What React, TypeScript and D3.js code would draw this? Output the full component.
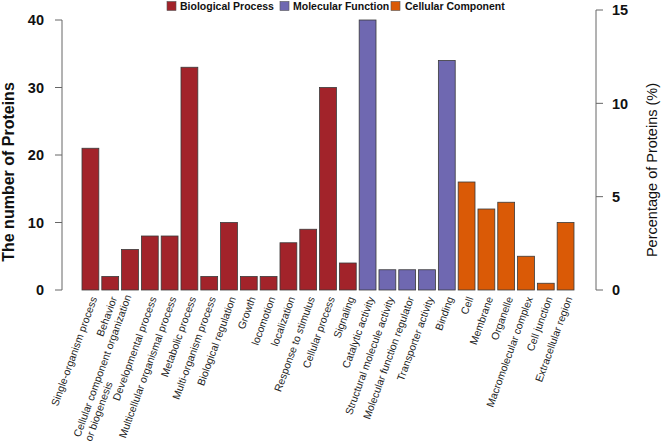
import { useLayoutEffect, useRef, useState } from 'react';
import * as d3 from 'd3';

const categories = [
  'Single-organism process',
  'Behavior',
  'Cellular component organization\nor biogenesis',
  'Developmental process',
  'Multicellular organismal process',
  'Metabolic process',
  'Multi-organism process',
  'Biological regulation',
  'Growth',
  'locomotion',
  'localization',
  'Response to stimulus',
  'Cellular process',
  'Signaling',
  'Catalytic activity',
  'Structural molecule activity',
  'Molecular function regulator',
  'Transporter activity',
  'Binding',
  'Cell',
  'Membrane',
  'Organelle',
  'Macromolecular complex',
  'Cell junction',
  'Extracellular region',
];
const counts = [21, 2, 6, 8, 8, 33, 2, 10, 2, 2, 7, 9, 30, 4, 40, 3, 3, 3, 34, 16, 12, 13, 5, 1, 10];
const groupOf = [
  ...Array(14).fill('Biological Process'),
  ...Array(5).fill('Molecular Function'),
  ...Array(6).fill('Cellular Component'),
];
const groups = ['Biological Process', 'Molecular Function', 'Cellular Component'];
const groupColors = ['#a2232a', '#6f68b1', '#da5a06'];
const countTicks = [0, 10, 20, 30, 40];
const percentTicks = [0, 5, 10, 15];

const W = 666;
const H = 448;
const FONT = 'Arial, "Liberation Sans", Helvetica, sans-serif';
const LABEL_SIZE = 10.5;

function XLabel({ label, x, y }: { label: string; x: number; y: number }) {
  const lines = label.split('\n');
  const firstRef = useRef<SVGTSpanElement | null>(null);
  const [firstLen, setFirstLen] = useState(0);
  useLayoutEffect(() => {
    if (firstRef.current) setFirstLen(firstRef.current.getComputedTextLength());
  }, [label]);

  if (lines.length === 1) {
    return (
      <text transform={`translate(${x},${y}) rotate(-70)`} textAnchor="end" dy="0.35em" fontSize={LABEL_SIZE} fill="#222">
        {label}
      </text>
    );
  }
  // multi-line: lines left-aligned, block right-aligned at the anchor
  return (
    <g transform={`translate(${x},${y}) rotate(-70)`}>
      <text dy="-0.2em" fontSize={LABEL_SIZE} fill="#222" textAnchor="end">
        <tspan ref={firstRef}>{lines[0]}</tspan>
      </text>
      <text x={-firstLen} dy="0.95em" fontSize={LABEL_SIZE} fill="#222">
        {lines[1]}
      </text>
    </g>
  );
}

export default function App() {
  const x = d3.scaleBand<string>()
    .domain(categories)
    .range([82, 574])
    .paddingInner(0.15)
    .paddingOuter(0);
  const yCount = d3.scaleLinear().domain([0, 40]).range([290, 20]);
  const yPct = d3.scaleLinear().domain([0, 15]).range([290, 10]);
  const color = d3.scaleOrdinal<string, string>().domain(groups).range(groupColors);

  const leftX = 62;
  const rightX = 596;

  const legendItems = [
    { x: 167, textX: 180 },
    { x: 280, textX: 293 },
    { x: 391, textX: 405 },
  ];

  return (
    <svg width={W} height={H} style={{ position: 'absolute', left: 0, top: 0, background: '#fff' }} fontFamily={FONT}>
      {/* legend */}
      {groups.map((g, i) => (
        <g key={g}>
          <rect x={legendItems[i].x} y={1.5} width={9} height={9} fill={color(g)} stroke="#555" strokeWidth={0.6} />
          <text x={legendItems[i].textX} y={10} fontSize={10.5} fontWeight="bold" fill="#111">{g}</text>
        </g>
      ))}

      {/* bars */}
      {categories.map((c, i) => (
        <rect
          key={c}
          x={x(c)}
          y={yCount(counts[i])}
          width={x.bandwidth()}
          height={yCount(0) - yCount(counts[i])}
          fill={color(groupOf[i])}
          stroke="#3a3a3a"
          strokeWidth={0.8}
        />
      ))}

      {/* left axis */}
      <line x1={leftX} x2={leftX} y1={yCount(40)} y2={yCount(0)} stroke="#666" strokeWidth={1} />
      {countTicks.map((t) => (
        <g key={`l-${t}`}>
          <line x1={leftX - 7} x2={leftX} y1={yCount(t)} y2={yCount(t)} stroke="#666" strokeWidth={1} />
          <text x={44} y={yCount(t)} dy="0.36em" textAnchor="end" fontSize={14.5} fontWeight="bold" fill="#111">{t}</text>
        </g>
      ))}
      <text transform={`translate(14,172) rotate(-90)`} textAnchor="middle" fontSize={16} fontWeight="bold" fill="#111">
        The number of Proteins
      </text>

      {/* right axis */}
      <line x1={rightX} x2={rightX} y1={yPct(15)} y2={yPct(0)} stroke="#666" strokeWidth={1} />
      {percentTicks.map((t) => (
        <g key={`r-${t}`}>
          <line x1={rightX} x2={rightX + 7} y1={yPct(t)} y2={yPct(t)} stroke="#666" strokeWidth={1} />
          <text x={612} y={yPct(t)} dy="0.36em" textAnchor="start" fontSize={14.5} fontWeight="bold" fill="#111">{t}</text>
        </g>
      ))}
      <text transform={`translate(657,170) rotate(-90)`} textAnchor="middle" fontSize={14.5} fill="#111">
        Percentage of Proteins (%)
      </text>

      {/* category labels */}
      {categories.map((c) => (
        <XLabel key={c} label={c} x={(x(c) ?? 0) + x.bandwidth() / 2 + 3.5} y={297} />
      ))}
    </svg>
  );
}
